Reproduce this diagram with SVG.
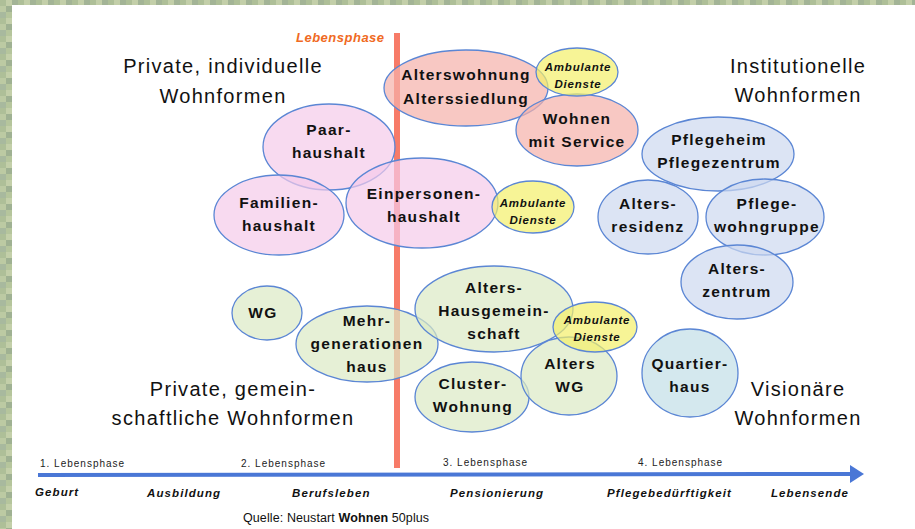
<svg xmlns="http://www.w3.org/2000/svg" width="915" height="529" viewBox="0 0 915 529">
  <defs>
    <!-- mottled green frame texture -->
    <pattern id="moss" width="18" height="18" patternUnits="userSpaceOnUse">
      <rect x="0" y="0" width="6" height="6" fill="#aebf98"/>
      <rect x="6" y="0" width="6" height="6" fill="#c3cfa9"/>
      <rect x="12" y="0" width="6" height="6" fill="#a3b496"/>
      <rect x="0" y="6" width="6" height="6" fill="#bccaa3"/>
      <rect x="6" y="6" width="6" height="6" fill="#9fb192"/>
      <rect x="12" y="6" width="6" height="6" fill="#c8d3b0"/>
      <rect x="0" y="12" width="6" height="6" fill="#a8b99e"/>
      <rect x="6" y="12" width="6" height="6" fill="#b5c59c"/>
      <rect x="12" y="12" width="6" height="6" fill="#b0bfa7"/>
    </pattern>
    <marker id="arrowHead" viewBox="0 0 14 18" refX="1" refY="9" markerWidth="14" markerHeight="18" markerUnits="userSpaceOnUse" orient="auto">
      <path d="M0,0 L14,9 L0,18 Z" fill="#4a77d6"/>
    </marker>
  </defs>
  <style>
    .bubble { stroke: #5b86d4; stroke-width: 1.3; fill-opacity: 0.7; }
    .pink { fill: #f5caea; }
    .salmon { fill: #f5b0a9; }
    .yellow { fill: #f3f069; }
    .green { fill: #dbeac4; }
    .blue { fill: #cdd8ef; }
    .teal { fill: #c2dee7; }
    .node { font-family: "Liberation Sans", Arial, sans-serif; font-weight: bold; font-size: 15.5px; letter-spacing: 1.3px; fill: #111; text-anchor: middle; }
    .svc { font-family: "Liberation Sans", Arial, sans-serif; font-weight: bold; font-style: italic; font-size: 11.5px; letter-spacing: 0.8px; fill: #111; text-anchor: middle; }
    .cat { font-family: "Liberation Sans", Arial, sans-serif; font-size: 20px; letter-spacing: 1.3px; fill: #111; text-anchor: middle; }
    .phase { font-family: "Liberation Sans", Arial, sans-serif; font-size: 10px; letter-spacing: 1px; fill: #222; }
    .stage { font-family: "Liberation Sans", Arial, sans-serif; font-weight: bold; font-style: italic; font-size: 11.5px; letter-spacing: 1.1px; fill: #111; }
  </style>

  <!-- frame and white panel -->
  <rect x="0" y="0" width="915" height="529" fill="url(#moss)"/>
  <rect x="12" y="5" width="903" height="524" fill="#ffffff"/>

  <!-- category headings -->
  <g id="headings">
    <text class="cat" x="223" y="73">Private, individuelle</text>
    <text class="cat" x="223" y="103">Wohnformen</text>
    <text class="cat" x="798" y="73">Institutionelle</text>
    <text class="cat" x="798" y="102">Wohnformen</text>
    <text class="cat" x="233" y="396">Private, gemein-</text>
    <text class="cat" x="233" y="425">schaftliche Wohnformen</text>
    <text class="cat" x="798" y="396">Visionäre</text>
    <text class="cat" x="798" y="425">Wohnformen</text>
  </g>

  <!-- life phase marker and timeline -->
  <g id="connectors">
    <rect x="394" y="33" width="6" height="435" fill="#f77b68"/>
    <line x1="38" y1="475" x2="851" y2="474" stroke="#4a77d6" stroke-width="4" marker-end="url(#arrowHead)"/>
  </g>
  <text x="296" y="42" font-family="Liberation Sans, Arial, sans-serif" font-weight="bold" font-style="italic" font-size="13" letter-spacing="0.5" fill="#f06a23">Lebensphase</text>

  <!-- private, individual -->
  <g id="paarhaushalt">
    <ellipse class="bubble pink" cx="329" cy="147" rx="66" ry="43"/>
    <text class="node" x="329" y="135">Paar-</text>
    <text class="node" x="329" y="158">haushalt</text>
  </g>
  <g id="familienhaushalt">
    <ellipse class="bubble pink" cx="279" cy="215" rx="65" ry="40"/>
    <text class="node" x="279" y="208">Familien-</text>
    <text class="node" x="279" y="231">haushalt</text>
  </g>
  <g id="einpersonenhaushalt">
    <ellipse class="bubble pink" cx="422" cy="203" rx="76" ry="45"/>
    <text class="node" x="424" y="199">Einpersonen-</text>
    <text class="node" x="424" y="222">haushalt</text>
  </g>
  <g id="ambulante-dienste-2">
    <ellipse class="bubble yellow" cx="533" cy="207" rx="41" ry="26"/>
    <text class="svc" x="533" y="207">Ambulante</text>
    <text class="svc" x="533" y="224">Dienste</text>
  </g>

  <!-- senior housing -->
  <g id="alterswohnung">
    <ellipse class="bubble salmon" cx="466" cy="88" rx="82" ry="38"/>
    <text class="node" x="466" y="80">Alterswohnung</text>
    <text class="node" x="466" y="104">Alterssiedlung</text>
  </g>
  <g id="wohnen-mit-service">
    <ellipse class="bubble salmon" cx="577" cy="130" rx="61" ry="36"/>
    <text class="node" x="577" y="124">Wohnen</text>
    <text class="node" x="577" y="147">mit Service</text>
  </g>
  <g id="ambulante-dienste-1">
    <ellipse class="bubble yellow" cx="577" cy="72" rx="41" ry="24"/>
    <text class="svc" x="578" y="71">Ambulante</text>
    <text class="svc" x="578" y="88">Dienste</text>
  </g>

  <!-- institutional -->
  <g id="pflegeheim">
    <ellipse class="bubble blue" cx="718" cy="154" rx="76" ry="37"/>
    <text class="node" x="719" y="145">Pflegeheim</text>
    <text class="node" x="719" y="168">Pflegezentrum</text>
  </g>
  <g id="altersresidenz">
    <ellipse class="bubble blue" cx="648" cy="217" rx="50" ry="37"/>
    <text class="node" x="648" y="209">Alters-</text>
    <text class="node" x="648" y="232">residenz</text>
  </g>
  <g id="pflegewohngruppe">
    <ellipse class="bubble blue" cx="765" cy="217" rx="59" ry="38"/>
    <text class="node" x="767" y="209">Pflege-</text>
    <text class="node" x="767" y="232">wohngruppe</text>
  </g>
  <g id="alterszentrum">
    <ellipse class="bubble blue" cx="737" cy="282" rx="56" ry="37"/>
    <text class="node" x="737" y="274">Alters-</text>
    <text class="node" x="737" y="297">zentrum</text>
  </g>

  <!-- private, communal -->
  <g id="wg">
    <ellipse class="bubble green" cx="267" cy="313" rx="35" ry="27"/>
    <text class="node" x="263" y="318">WG</text>
  </g>
  <g id="mehrgenerationenhaus">
    <ellipse class="bubble green" cx="367" cy="344" rx="71" ry="38"/>
    <text class="node" x="367" y="326">Mehr-</text>
    <text class="node" x="367" y="349">generationen</text>
    <text class="node" x="367" y="372">haus</text>
  </g>
  <g id="alters-hausgemeinschaft">
    <ellipse class="bubble green" cx="494" cy="309" rx="79" ry="43"/>
    <text class="node" x="494" y="293">Alters-</text>
    <text class="node" x="494" y="316">Hausgemein-</text>
    <text class="node" x="494" y="339">schaft</text>
  </g>
  <g id="cluster-wohnung">
    <ellipse class="bubble green" cx="472" cy="397" rx="57" ry="35"/>
    <text class="node" x="473" y="389">Cluster-</text>
    <text class="node" x="473" y="412">Wohnung</text>
  </g>
  <g id="alters-wg">
    <ellipse class="bubble green" cx="569" cy="376" rx="48" ry="39"/>
    <text class="node" x="570" y="369">Alters</text>
    <text class="node" x="570" y="392">WG</text>
  </g>
  <g id="ambulante-dienste-3">
    <ellipse class="bubble yellow" cx="595" cy="327" rx="42" ry="25"/>
    <text class="svc" x="597" y="324">Ambulante</text>
    <text class="svc" x="597" y="341">Dienste</text>
  </g>

  <!-- visionary -->
  <g id="quartierhaus">
    <ellipse class="bubble teal" cx="690" cy="373" rx="48" ry="44"/>
    <text class="node" x="690" y="369">Quartier-</text>
    <text class="node" x="690" y="392">haus</text>
  </g>

  <!-- timeline labels -->
  <g id="phases">
    <text class="phase" x="40" y="467">1. Lebensphase</text>
    <text class="phase" x="241" y="467">2. Lebensphase</text>
    <text class="phase" x="443" y="466">3. Lebensphase</text>
    <text class="phase" x="638" y="466">4. Lebensphase</text>
  </g>
  <g id="stages">
    <text class="stage" x="35" y="496">Geburt</text>
    <text class="stage" x="147" y="497">Ausbildung</text>
    <text class="stage" x="292" y="497">Berufsleben</text>
    <text class="stage" x="450" y="497">Pensionierung</text>
    <text class="stage" x="607" y="497">Pflegebedürftigkeit</text>
    <text class="stage" x="771" y="497">Lebensende</text>
  </g>
  <text x="243" y="522" font-family="Liberation Sans, Arial, sans-serif" font-size="12.5" letter-spacing="0.1" fill="#111">Quelle: Neustart <tspan font-weight="bold">Wohnen</tspan> 50plus</text>
</svg>
